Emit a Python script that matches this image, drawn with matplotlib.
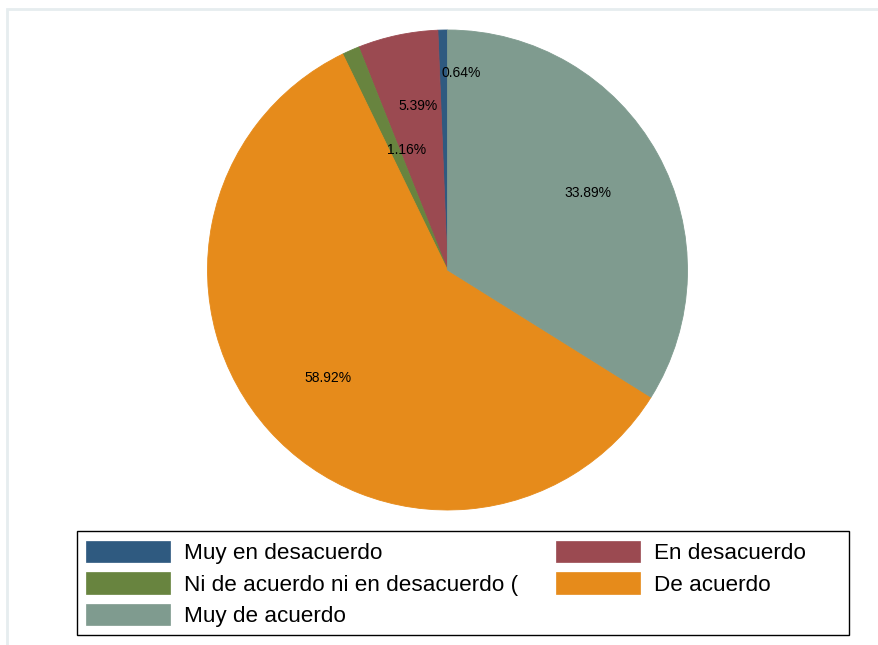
import numpy as np
import matplotlib.pyplot as plt
from matplotlib.patches import Rectangle

plt.rcParams['font.family'] = ['Liberation Sans', 'DejaVu Sans']

categorias = ['Muy en desacuerdo', 'En desacuerdo', 'Ni de acuerdo ni en desacuerdo (',
              'De acuerdo', 'Muy de acuerdo']
porcentajes = [0.64, 5.39, 1.16, 58.92, 33.89]
colores = ['#2f5a80', '#9b4a51', '#68843f', '#e68b1b', '#7f9b8f']

# posicion de las etiquetas (radio, angulo); None = centro de la porcion
etiq_r = [0.827, 0.699, 0.532, 0.667, 0.667]
etiq_ang = [86.1, 100.1, 108.5, None, None]

W, H = 879, 645
fig = plt.figure(figsize=(W / 100, H / 100), dpi=100)

# borde exterior claro
fig.patches.append(Rectangle((7 / W, -0.1), 1.2, 1.1 - 9 / H, transform=fig.transFigure,
                             fill=False, edgecolor='#e6edef', linewidth=2))

cx, cy, R = 447.5, 270, 240
ax = fig.add_axes([(cx - R) / W, (H - cy - R) / H, 2 * R / W, 2 * R / H])
wedges, _ = ax.pie(porcentajes, colors=colores, startangle=90, counterclock=True,
                   radius=1, wedgeprops=dict(linewidth=0.6))
for w, c in zip(wedges, colores):
    w.set_edgecolor(c)
ax.set_xlim(-1, 1)
ax.set_ylim(-1, 1)
ax.set_aspect('equal')
ax.axis('off')

for w, p, r, a in zip(wedges, porcentajes, etiq_r, etiq_ang):
    if a is None:
        a = (w.theta1 + w.theta2) / 2
    t = np.deg2rad(a)
    ax.text(r * np.cos(t), r * np.sin(t) - 0.004, f'{p:.2f}%', ha='center', va='center',
            fontsize=10, color='black')

# leyenda
orden = [0, 2, 4, 1, 3]
leg = fig.legend([wedges[i] for i in orden], [categorias[i] for i in orden],
                 ncol=2, loc='upper left', bbox_to_anchor=(86 / W, 1 - 541 / H),
                 frameon=False, fontsize=16.2, handlelength=3.72, handleheight=1.08,
                 handletextpad=0.62, columnspacing=1.7, labelspacing=0.36,
                 borderpad=0, borderaxespad=0)
for h in leg.legend_handles:
    h.set_linewidth(0.5)

fig.patches.append(Rectangle((77 / W, 1 - 635 / H), 772 / W, 104 / H,
                             transform=fig.transFigure, fill=False,
                             edgecolor='black', linewidth=1))

fig.savefig('out.png', dpi=100, facecolor='white')
